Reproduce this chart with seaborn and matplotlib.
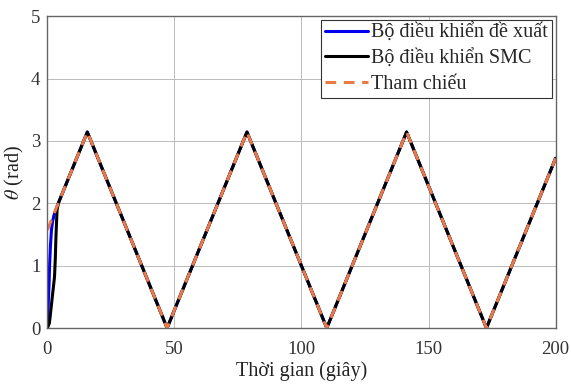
import numpy as np
import pandas as pd
import matplotlib
matplotlib.use("Agg")
import matplotlib.pyplot as plt
import seaborn as sns

# Reference trajectory vertices (triangle wave)
ref_t = [0.0, 15.71, 47.12, 78.54, 109.96, 141.37, 172.79, 200.0]
ref_theta = [1.571, 3.142, 0.0, 3.142, 0.0, 3.142, 0.0, 2.721]

# Proposed controller: initial transient, then tracks reference
prop_t = [0.0, 0.3, 0.67, 0.9, 1.2, 1.6, 2.0, 2.6, 3.2, 3.8, 15.71, 47.12, 78.54, 109.96, 141.37, 172.79, 200.0]
prop_theta = [0.0, 0.35, 0.72, 1.04, 1.32, 1.57, 1.70, 1.81, 1.88, 1.95, 3.142, 0.0, 3.142, 0.0, 3.142, 0.0, 2.721]

# SMC controller: slower transient, then tracks reference
smc_t = [0.0, 0.8, 1.8, 2.8, 3.1, 3.4, 3.8, 4.3, 15.71, 47.12, 78.54, 109.96, 141.37, 172.79, 200.0]
smc_theta = [0.0, 0.08, 0.45, 0.82, 1.10, 1.50, 1.89, 2.0, 3.142, 0.0, 3.142, 0.0, 3.142, 0.0, 2.721]

labels = ["Bộ điều khiển đề xuất", "Bộ điều khiển SMC", "Tham chiếu"]

sns.set_theme(style="white")
plt.rcParams['font.family'] = ['Liberation Serif', 'DejaVu Serif']
plt.rcParams['mathtext.fontset'] = 'stix'

fig = plt.figure(figsize=(5.71, 3.85), dpi=100)
ax = fig.add_axes([0.083, 0.148, 0.89, 0.81])

df_p = pd.DataFrame({"t": prop_t, "theta": prop_theta})
df_s = pd.DataFrame({"t": smc_t, "theta": smc_theta})
df_r = pd.DataFrame({"t": ref_t, "theta": ref_theta})

orange = "#EA7A45"
dash = (0, (3.5, 2.5))
sns.lineplot(data=df_p, x="t", y="theta", ax=ax, color="#0000EE", lw=2.2, label=labels[0], sort=False, estimator=None)
sns.lineplot(data=df_s, x="t", y="theta", ax=ax, color="black", lw=2.2, label=labels[1], sort=False, estimator=None)
sns.lineplot(data=df_r, x="t", y="theta", ax=ax, color=orange, lw=2.2, label=labels[2], sort=False, estimator=None)
ax.lines[-1].set_linestyle(dash)

ax.set_xlim(0, 200)
ax.set_ylim(0, 5)
ax.set_xticks([0, 50, 100, 150, 200])
ax.set_yticks([0, 1, 2, 3, 4, 5])
ax.grid(True, color="#BBBBBB", lw=0.7)
ax.set_axisbelow(True)
for s in ax.spines.values():
    s.set_color("#666666")
    s.set_linewidth(1.0)
ax.tick_params(axis="x", direction="in", length=3, labelsize=13.5, colors="#333333", pad=9)
ax.tick_params(axis="y", direction="in", length=3, labelsize=13.5, colors="#333333", pad=5)
ax.set_xlabel("Thời gian (giây)", fontsize=14.5, labelpad=3, color="#222222")
ax.set_ylabel(r"$\theta$ (rad)", fontsize=14.5, labelpad=4, color="#222222")

leg = ax.legend(loc="upper right", fontsize=14.5, frameon=True, fancybox=False, edgecolor="#333333",
                borderpad=0.2, labelspacing=0.3, handlelength=2.1, handletextpad=0.15,
                borderaxespad=0.2, framealpha=1)
leg.get_frame().set_linewidth(0.8)
leg.get_lines()[2].set_linestyle(dash)

fig.savefig("out.png", dpi=100)
